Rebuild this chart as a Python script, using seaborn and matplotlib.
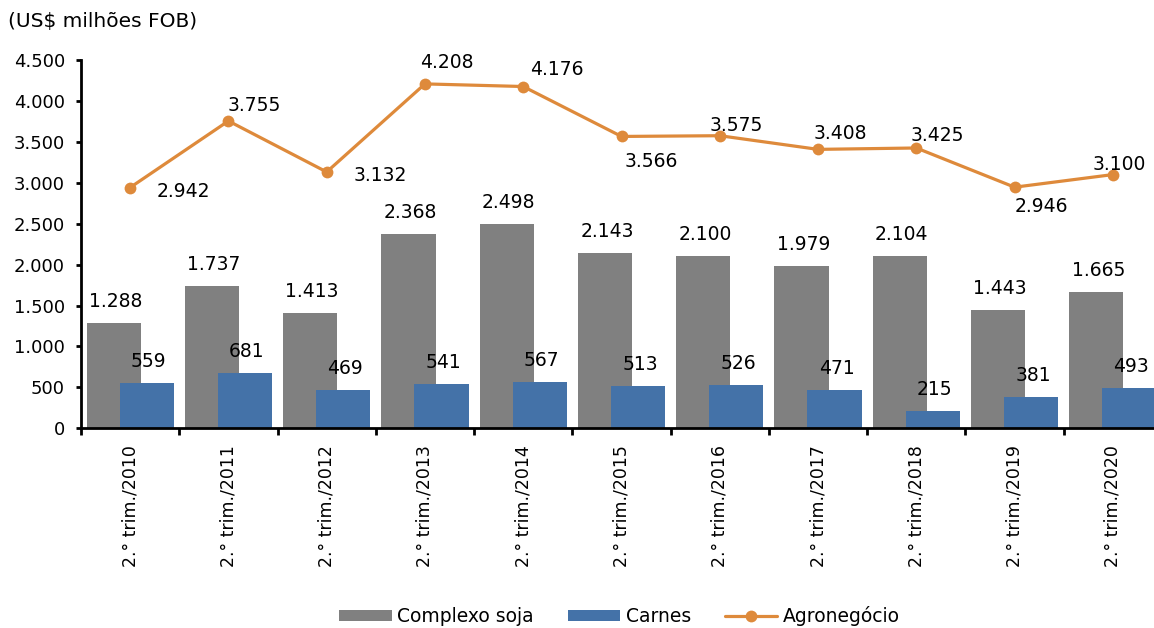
import numpy as np
import matplotlib
matplotlib.use("Agg")
import matplotlib.pyplot as plt
import seaborn as sns
from matplotlib.patches import Patch
from matplotlib.lines import Line2D
from matplotlib.ticker import FixedLocator, FuncFormatter

# ---- data -------------------------------------------------------------
periodos = [
    "2.° trim./2010", "2.° trim./2011", "2.° trim./2012", "2.° trim./2013",
    "2.° trim./2014", "2.° trim./2015", "2.° trim./2016", "2.° trim./2017",
    "2.° trim./2018", "2.° trim./2019", "2.° trim./2020",
]
complexo_soja = [1288, 1737, 1413, 2368, 2498, 2143, 2100, 1979, 2104, 1443, 1665]
carnes = [559, 681, 469, 541, 567, 513, 526, 471, 215, 381, 493]
agronegocio = [2942, 3755, 3132, 4208, 4176, 3566, 3575, 3408, 3425, 2946, 3100]

# placement of the Agronegócio value labels (pixels from each point, y up)
agro_label_dx = [53, 26, 54, 22, 34, 30, 16, 22, 21, 27, 6]
agro_label_dy = [-2, 17, -2, 23, 19, -24, 12, 17, 14, -18, 12]

GRAY = "#808080"
BLUE = "#4472A8"
ORANGE = "#DE8A3B"


def fmt(v):
    return f"{v:,.0f}".replace(",", ".")


sns.set_theme(style="ticks")
plt.rcParams["font.family"] = ["DejaVu Sans"]
plt.rcParams["text.color"] = "black"

W, H = 1154, 628
fig = plt.figure(figsize=(W / 100, H / 100), dpi=100)
ax = fig.add_axes([81 / W, (H - 428.3) / H, 1081 / W, 368.3 / H])

pos = np.arange(len(periodos))
shift = 0.168
bar_w = 0.552

sns.barplot(x=pos - shift, y=complexo_soja, native_scale=True, width=bar_w,
            color=GRAY, saturation=1, linewidth=0, errorbar=None, ax=ax)
sns.barplot(x=pos + shift, y=carnes, native_scale=True, width=bar_w,
            color=BLUE, saturation=1, linewidth=0, errorbar=None, ax=ax)
sns.lineplot(x=pos, y=agronegocio, color=ORANGE, linewidth=2.3, marker="o",
             markersize=8.5, markeredgecolor=ORANGE, markeredgewidth=0,
             ax=ax, zorder=5)

# value labels
LABEL_FS = 13.5
for p, v in zip(pos, complexo_soja):
    ax.annotate(fmt(v), xy=(p - shift, v), xytext=(2, 16), textcoords="offset pixels",
                ha="center", va="baseline", fontsize=LABEL_FS)
for p, v in zip(pos, carnes):
    ax.annotate(fmt(v), xy=(p + shift, v), xytext=(2, 16), textcoords="offset pixels",
                ha="center", va="baseline", fontsize=LABEL_FS)
for p, v, dx, dy in zip(pos, agronegocio, agro_label_dx, agro_label_dy):
    ax.annotate(fmt(v), xy=(p, v), xytext=(dx, dy - 7), textcoords="offset pixels",
                ha="center", va="baseline", fontsize=LABEL_FS, zorder=6)

# axes
ax.set_xlim(-0.5, len(periodos) - 0.5)
ax.set_ylim(0, 4500)
ax.set_xticks(pos)
ax.set_xticklabels(periodos, rotation=90, va="top", ha="center", fontsize=12.5)
ax.xaxis.set_minor_locator(FixedLocator(np.arange(-0.5, len(periodos), 1)))
ax.tick_params(axis="x", which="major", length=0, pad=12, bottom=True)
ax.tick_params(axis="x", which="minor", length=5, width=2, direction="out",
               color="black", bottom=True)
ax.set_yticks(np.arange(0, 4501, 500))
ax.yaxis.set_major_formatter(FuncFormatter(lambda v, _: fmt(v)))
ax.tick_params(axis="y", length=3.6, width=2, pad=8, labelsize=13,
               color="black", left=True)
ax.tick_params(colors="black", which="both")
for s in ("top", "right"):
    ax.spines[s].set_visible(False)
for s in ("left", "bottom"):
    ax.spines[s].set_color("black")
    ax.spines[s].set_linewidth(2)
ax.set_xlabel("")
ax.set_ylabel("")

fig.text(8 / W, 1 - 22 / H, "(US$ milhões FOB)", ha="left", va="center", fontsize=14.5)

handles = [
    Patch(facecolor=GRAY, edgecolor="none"),
    Patch(facecolor=BLUE, edgecolor="none"),
    Line2D([0], [0], color=ORANGE, linewidth=2.3, marker="o", markersize=8.5,
           markeredgewidth=0),
]
fig.legend(handles, ["Complexo soja", "Carnes", "Agronegócio"], loc="center",
           bbox_to_anchor=(619.5 / W, 1 - 616 / H), ncol=3, frameon=False,
           fontsize=13.5, handlelength=2.8, handleheight=0.5, handletextpad=0.3,
           columnspacing=1.8)

fig.savefig("out.png", dpi=100)
